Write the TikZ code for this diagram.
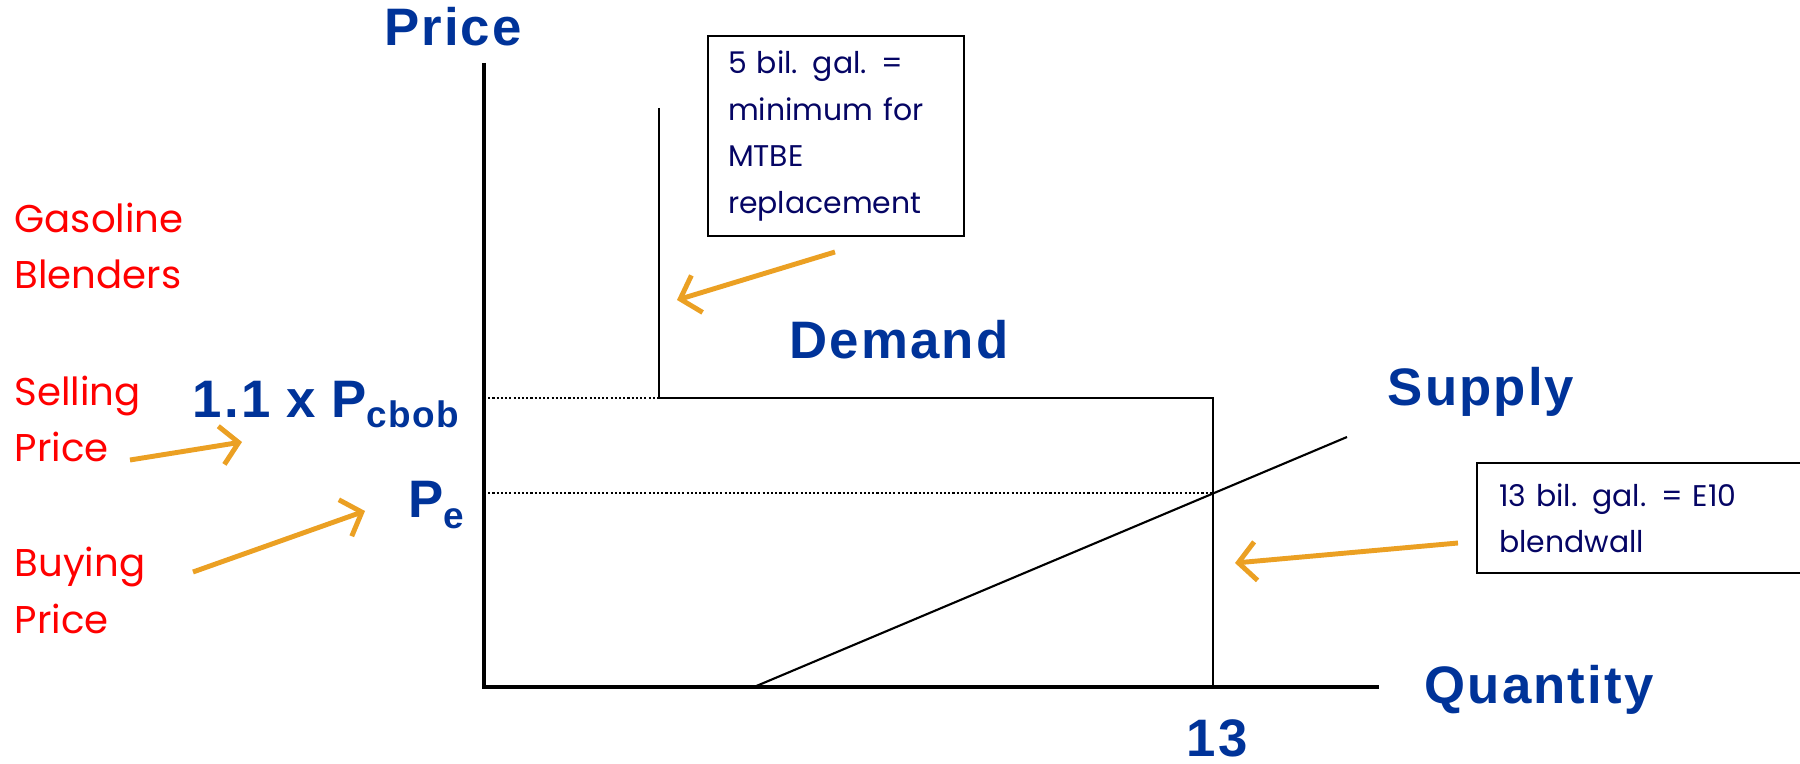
\documentclass[tikz,border=0pt]{standalone}
\usepackage{fontspec}
\usepackage{xcolor}
\usepackage{tikz}
\usetikzlibrary{positioning, arrows.meta}
\newfontfamily\axisfont{Liberation Sans}[LetterSpace=4]
\newfontfamily\notefont{Poppins}
\definecolor{axisblue}{RGB}{0,51,153}
\definecolor{notenavy}{RGB}{5,5,100}
\definecolor{pointerorange}{RGB}{235,160,35}

\begin{document}
\begin{tikzpicture}[x=0.01cm, y=-0.01cm]
	\tikzstyle{axislabel}=[font=\axisfont\bfseries\fontsize{15}{18}\selectfont, text=axisblue, inner sep=0pt]
	\tikzstyle{redlabel}=[font=\notefont\fontsize{11}{16.2}\selectfont, text=red, align=left, inner sep=0pt, anchor=base west]
	\tikzstyle{notebox}=[draw=black, line width=0.6pt, font=\notefont\fontsize{8.5}{13.2}\selectfont, text=notenavy, align=left, anchor=north west, inner ysep=0pt]
	\tikzstyle{pointer}=[draw=pointerorange, line width=1.4pt, -{Straight Barb[length=5pt, width=11pt]}]
	\tikzstyle{pricelevel}=[line width=0.6pt, dash pattern=on 0.6pt off 0.6pt]
	\useasboundingbox (0,0) rectangle (1800,764);
	% axes
	\coordinate (origin) at (484,687);
	\coordinate (ytop) at (484,63);
	\coordinate (xend) at (1379,687);
	\draw[line width=0.9pt] (ytop) -- (origin) -- (xend);
	\node[axislabel, anchor=base] (price) at (453,46) {Price};
	\node[axislabel, anchor=base west] (quantity) at (1424,703) {Quantity};
	\node[axislabel, anchor=base] (thirteen) at (1217,756) {13};
	% demand and supply
	\coordinate (d1) at (659,108);
	\coordinate (d2) at (659,398);
	\coordinate (d3) at (1213,398);
	\coordinate (d4) at (1213,687);
	\draw[line width=0.6pt] (d1) -- (d2) -- (d3) -- (d4);
	\coordinate (s1) at (754,687);
	\coordinate (s2) at (1347,437);
	\draw[line width=0.6pt] (s1) -- (s2);
	\node[axislabel, anchor=base] (demand) at (899,359) {Demand};
	\node[axislabel, anchor=base] (supply) at (1481,406) {Supply};
	% price levels
	\coordinate (eq) at (1213,493);
	\draw[pricelevel] (origin |- d2) -- (d2);
	\draw[pricelevel] (origin |- eq) -- (eq);
	\node[axislabel, anchor=base east] (pcbob) at (460,418) {1.1\hspace{0.3em}x\hspace{0.3em}P\raisebox{-2.8pt}{\fontsize{10.5}{12}\selectfont cbob}};
	\node[axislabel, anchor=base east] (pe) at (465,518) {P\raisebox{-3pt}{\fontsize{10.5}{12}\selectfont e}};
	% blenders
	\node[redlabel] (blenders) at (14,289) {Gasoline\\Blenders};
	\node[redlabel] (selling) at (14,462) {Selling\\Price};
	\node[redlabel] (buying) at (14,633) {Buying\\Price};
	\coordinate (selltail) at (130,460);
	\coordinate (selltip) at (242,442);
	\coordinate (buytail) at (193,572);
	\coordinate (buytip) at (365,511);
	\draw[pointer] (selltail) -- (selltip);
	\draw[pointer] (buytail) -- (buytip);
	% notes
	\node[notebox, minimum width=2.56cm, minimum height=2.0cm, inner xsep=0.2cm, text width=2.16cm] (note5) at (707,35) {5 bil. gal. =\\minimum for\\MTBE\\replacement};
	\node[notebox, minimum width=3.30cm, minimum height=1.10cm, inner xsep=0.22cm, text width=2.86cm] (note13) at (1476,462) {13 bil. gal. = E10\\blendwall};
	\coordinate (tail5) at (835,252);
	\coordinate (tip5) at (677,300);
	\coordinate (tail13) at (1458,543);
	\coordinate (tip13) at (1235,563);
	\draw[pointer] (tail5) -- (tip5);
	\draw[pointer] (tail13) -- (tip13);
\end{tikzpicture}
\end{document}
